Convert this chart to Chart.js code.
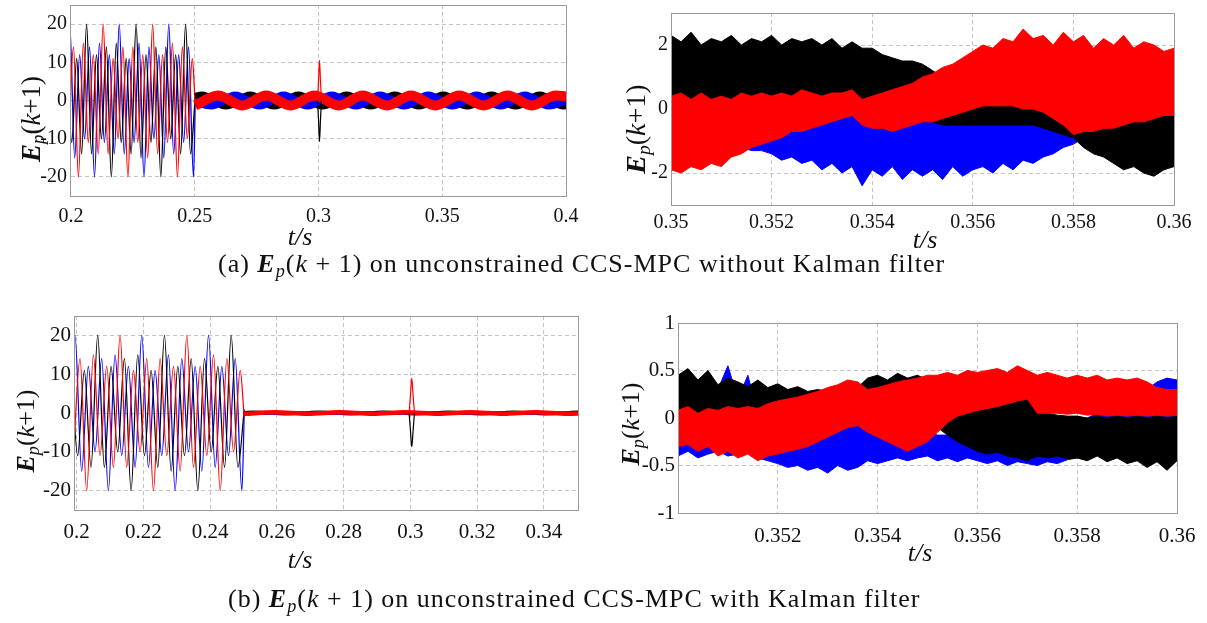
<!DOCTYPE html>
<html>
<head>
<meta charset="utf-8">
<script src="https://cdn.jsdelivr.net/npm/chart.js"></script>
<style>
  body { margin: 0; background: #fff; }
  #wrap { position: relative; width: 1207px; height: 623px; background: #fff; overflow: hidden; }
  canvas { position: absolute; }
  .ylab, .xlab, .cap { position: absolute; font-family: "Liberation Serif", "Times New Roman", serif; color: #111; white-space: nowrap; }
  .ylab { transform: translate(-50%, -50%) rotate(-90deg); }
  .xlab { font-size: 26px; font-style: italic; transform: translate(-50%, -50%); }
  .cap { font-size: 26px; letter-spacing: 1px; }
  sub { font-size: 0.7em; vertical-align: -0.25em; line-height: 0; }
</style>
</head>
<body>
<div id="wrap">
  <canvas id="tl" width="600" height="280" style="left:0;top:-20px"></canvas>
  <canvas id="tr" width="607" height="280" style="left:600px;top:-20px"></canvas>
  <canvas id="bl" width="610" height="300" style="left:0;top:300px"></canvas>
  <canvas id="br" width="607" height="300" style="left:600px;top:300px"></canvas>

  <div class="ylab" style="left:31px;top:119px;font-size:27px"><b><i>E</i></b><sub><i>p</i></sub>(<i>k</i>+1)</div>
  <div class="ylab" style="left:636px;top:129px;font-size:28px"><b><i>E</i></b><sub><i>p</i></sub>(<i>k</i>+1)</div>
  <div class="ylab" style="left:26px;top:431px;font-size:26px"><b><i>E</i></b><sub><i>p</i></sub>(<i>k</i>+1)</div>
  <div class="ylab" style="left:631px;top:424px;font-size:26px"><b><i>E</i></b><sub><i>p</i></sub>(<i>k</i>+1)</div>

  <div class="xlab" style="left:300px;top:237px">t/s</div>
  <div class="xlab" style="left:925px;top:240px">t/s</div>
  <div class="xlab" style="left:300px;top:560px">t/s</div>
  <div class="xlab" style="left:920px;top:553px">t/s</div>

  <div class="cap" style="left:218px;top:249px">(a) <b><i>E</i></b><sub><i>p</i></sub>(<i>k</i> + 1) on unconstrained CCS-MPC without Kalman filter</div>
  <div class="cap" style="left:228px;top:584px">(b) <b><i>E</i></b><sub><i>p</i></sub>(<i>k</i> + 1) on unconstrained CCS-MPC with Kalman filter</div>
</div>

<script>
// ---- left plots: transient before 0.25 s (extrema) ----
var blueTt = [0.1975,0.1995,0.2015,0.2035,0.2055,0.2075,0.2095,0.2115,0.2135,0.2155,0.2175,0.2195,0.2215,0.2235,0.2255,0.2275,0.2295,0.2315,0.2335,0.2355,0.2375,0.2395,0.2415,0.2435,0.2455,0.2475,0.2495,0.2502];
var blueTv = [-14,20,-15,12,-10,14,-20,15,-11,12,-14,20,-14,11,-11,15,-20,14,-10,12,-15,20,-14,12,-11,14,-20,-0.3];
var blackTt = [0.1983,0.2003,0.2023,0.2043,0.2063,0.2083,0.2103,0.2123,0.2143,0.2163,0.2183,0.2203,0.2223,0.2243,0.2263,0.2283,0.2303,0.2323,0.2343,0.2363,0.2383,0.2403,0.2423,0.2443,0.2463,0.2483,0.2502];
var blackTv = [14,-11,11,-14,20,-14,12,-10,14,-20,15,-11,11,-14,20,-15,12,-11,14,-20,14,-10,12,-14,20,-14,0.9];
var redTt = [0.1990,0.2010,0.2030,0.2050,0.2070,0.2090,0.2110,0.2130,0.2150,0.2170,0.2190,0.2210,0.2230,0.2250,0.2270,0.2290,0.2310,0.2330,0.2350,0.2370,0.2390,0.2410,0.2430,0.2450,0.2470,0.2490,0.2502];
var redTv = [-11,14,-20,15,-11,12,-14,20,-14,11,-10,14,-20,14,-11,12,-15,20,-14,12,-11,15,-20,14,-10,11,-1.3];

// ---- left plots: steady state after 0.25 s ----
var blackSt = [0.2502,0.2529,0.2626,0.2724,0.2821,0.2919,0.3016,0.3114,0.3211,0.3309,0.3406,0.3504,0.3601,0.3699,0.3796,0.3894,0.3991,0.4010];
var blackSv = [0.9,1.3,-1.3,1.3,-1.3,1.3,-1.3,1.3,-1.3,1.3,-1.3,1.3,-1.3,1.3,-1.3,1.3,-1.3,-1.2];
var blackSvK = [0.2,0.3,-0.3,0.3,-0.3,0.3,-0.3,0.3,-0.3,0.3,-0.3,0.3,-0.3,0.3,-0.3,0.3,-0.3,-0.3];
var blueSt = [0.2502,0.2566,0.2664,0.2761,0.2859,0.2956,0.3054,0.3151,0.3249,0.3346,0.3444,0.3541,0.3639,0.3736,0.3834,0.3931,0.4010];
var blueSv = [-0.4,-1.3,1.3,-1.3,1.3,-1.3,1.3,-1.3,1.3,-1.3,1.3,-1.3,1.3,-1.3,1.3,-1.3,0.3];
var blueSvK = [-0.1,-0.2,0.2,-0.2,0.2,-0.2,0.2,-0.2,0.2,-0.2,0.2,-0.2,0.2,-0.2,0.2,-0.2,0.1];
var redSt = [0.2502,0.2594,0.2692,0.2789,0.2887,0.2984,0.3082,0.3179,0.3277,0.3374,0.3472,0.3569,0.3667,0.3764,0.3862,0.3959,0.4010];
var redSv = [-1.3,1.3,-1.3,1.3,-1.3,1.3,-1.3,1.3,-1.3,1.3,-1.3,1.3,-1.3,1.3,-1.3,1.3,1.0];
var redSvK = [-0.2,0.2,-0.2,0.2,-0.2,0.2,-0.2,0.2,-0.2,0.2,-0.2,0.2,-0.2,0.2,-0.2,0.2,0.1];

// ---- step change spike at 0.3 s ----
var spikeT = [0.2996,0.3000,0.3004,0.3008,0.3012];
var redSpike = [0,5,10.5,5,0];
var blackSpike = [0,-5,-10.8,-5,0];
var redSpikeK = [0,4.5,9,4.5,0];
var blackSpikeK = [0,-4.5,-8.7,-4.5,0];

// ---- right plots: zoomed noise bands (upper / lower edges) ----
var tR = [0.3500,0.3502,0.3504,0.3506,0.3508,0.3510,0.3512,0.3514,0.3516,0.3518,0.3520,0.3522,0.3524,0.3526,0.3528,0.3530,0.3532,0.3534,0.3536,0.3538,0.3540,0.3542,0.3544,0.3546,0.3548,0.3550,0.3552,0.3554,0.3556,0.3558,0.3560,0.3562,0.3564,0.3566,0.3568,0.3570,0.3572,0.3574,0.3576,0.3578,0.3580,0.3582,0.3584,0.3586,0.3588,0.3590,0.3592,0.3594,0.3596,0.3598,0.3600];

// without Kalman filter
var blackHi = [2.3,2.1,2.4,2.0,2.2,2.1,2.3,2.0,2.2,2.1, 2.3,2.0,2.2,2.1,2.2,2.0,2.2,1.9,2.1,1.9, 1.9,1.7,1.6,1.5,1.5,1.4,1.2,1.0,0.8,0.7, 0.6,0.5,0.5,0.5,0.4,0.3,0.3,0.2,0.2,0.1, 0.1,0.0,0.0,-0.1,0.0,-0.1,0.0,-0.1,0.0,0.1, 0.0];
var blackLo = [-0.2,-0.1,-0.3,0.0,-0.1,0.0,0.1,0.0,0.1,0.2, 0.1,0.2,0.2,0.1,0.2,0.1,0.2,0.2,0.1,0.0, -0.1,-0.2,-0.2,-0.3,-0.3,-0.4,-0.4,-0.5,-0.5,-0.5, -0.5,-0.5,-0.5,-0.5,-0.5,-0.5,-0.5,-0.6,-0.7,-0.8, -0.9,-1.2,-1.4,-1.5,-1.7,-1.9,-1.8,-2.0,-2.1,-1.9, -1.8];
var blueHi = [0.3,0.2,0.2,0.1,0.1,0.0,0.0,-0.1,-0.1,-0.1, -0.1,-0.2,-0.2,-0.2,-0.2,-0.2,-0.1,-0.1,0.0,-0.1, -0.3,-0.3,-0.4,-0.4,-0.4,-0.4,-0.4,-0.4,-0.5,-0.5, -0.5,-0.5,-0.5,-0.5,-0.5,-0.5,-0.5,-0.5,-0.5,-0.5, -0.5,-0.5,-0.4,-0.3,-0.2,-0.1,0.0,0.1,0.1,0.2, 0.3];
var blueLo = [-1.2,-1.2,-1.3,-1.2,-1.3,-1.2,-1.3,-1.2,-1.3,-1.3, -1.4,-1.6,-1.5,-1.7,-1.6,-1.9,-1.7,-2.0,-1.8,-2.4, -1.9,-2.1,-1.8,-2.2,-1.9,-2.1,-1.9,-2.2,-1.8,-2.1, -1.9,-1.8,-2.0,-1.7,-1.9,-1.6,-1.7,-1.5,-1.4,-1.2, -1.1,-0.9,-0.8,-0.7,-0.6,-0.5,-0.4,-0.4,-0.3,-0.3, -0.2];
var redHi = [0.4,0.5,0.3,0.5,0.3,0.4,0.3,0.5,0.4,0.5, 0.4,0.5,0.4,0.6,0.5,0.4,0.5,0.5,0.6,0.3, 0.4,0.5,0.6,0.7,0.8,1.0,1.1,1.3,1.4,1.6, 1.8,2.0,1.9,2.2,2.1,2.5,2.2,2.3,2.0,2.4, 2.1,2.3,1.9,2.2,2.0,2.3,1.9,2.1,2.0,1.8, 1.9];
var redLo = [-1.9,-2.0,-1.8,-1.9,-1.7,-1.8,-1.5,-1.4,-1.2,-1.1, -1.0,-0.9,-0.7,-0.7,-0.6,-0.5,-0.4,-0.3,-0.2,-0.5, -0.6,-0.6,-0.7,-0.6,-0.5,-0.4,-0.4,-0.3,-0.2,-0.1, 0.0,0.1,0.1,0.1,0.1,0.0,0.0,-0.1,-0.3,-0.5, -0.8,-0.7,-0.7,-0.6,-0.6,-0.5,-0.4,-0.4,-0.3,-0.2, -0.2];

// with Kalman filter
var blackHiK = [0.45,0.52,0.40,0.50,0.35,0.42,0.38,0.33,0.40,0.32, 0.36,0.30,0.33,0.28,0.30,0.28,0.30,0.28,0.32,0.42, 0.45,0.40,0.47,0.42,0.45,0.40,0.35,0.28,0.20,0.15, 0.10,0.12,0.15,0.18,0.20,0.28,0.05,0.05,0.03,0.02, 0.02,0.00,0.02,0.00,0.02,0.00,0.02,0.00,0.02,0.00, 0.02];
var blackLoK = [-0.05,-0.02,0.00,0.02,0.00,0.03,0.05,0.02,0.04,0.05, 0.04,0.05,0.06,0.06,0.07,0.08,0.08,0.10,0.10,0.12, 0.12,0.10,0.10,0.05,0.02,-0.05,-0.10,-0.18,-0.25,-0.30, -0.35,-0.38,-0.36,-0.40,-0.42,-0.45,-0.40,-0.42,-0.40,-0.43, -0.42,-0.45,-0.40,-0.46,-0.42,-0.48,-0.45,-0.52,-0.46,-0.55, -0.45];
var blueHiK = [-0.05,-0.08,0.00,-0.05,0.30,0.55,0.20,0.45,0.05,-0.05, -0.08,-0.10,-0.10,-0.08,-0.10,-0.10,-0.08,-0.10,-0.05,0.00, -0.10,-0.12,-0.15,-0.15,-0.15,-0.15,-0.18,-0.18,-0.20,-0.20, -0.22,-0.20,-0.20,-0.20,-0.20,-0.20,-0.18,-0.15,-0.12,-0.10, -0.05,0.00,0.05,0.10,0.15,0.20,0.25,0.30,0.38,0.42, 0.40];
var blueLoK = [-0.40,-0.35,-0.42,-0.38,-0.35,-0.40,-0.38,-0.36,-0.42,-0.45, -0.48,-0.52,-0.50,-0.55,-0.52,-0.58,-0.50,-0.55,-0.52,-0.45, -0.48,-0.45,-0.42,-0.45,-0.42,-0.40,-0.45,-0.42,-0.46,-0.42, -0.45,-0.48,-0.45,-0.50,-0.46,-0.48,-0.50,-0.46,-0.48,-0.44, -0.42,-0.40,-0.35,-0.30,-0.25,-0.20,-0.15,-0.10,-0.05,0.00, 0.00];
var redHiK = [0.08,0.12,0.05,0.10,0.08,0.12,0.10,0.12,0.10,0.15, 0.18,0.20,0.22,0.25,0.28,0.32,0.35,0.40,0.38,0.30, 0.32,0.35,0.38,0.40,0.42,0.45,0.45,0.48,0.45,0.50, 0.48,0.50,0.52,0.48,0.55,0.50,0.45,0.48,0.45,0.42, 0.45,0.42,0.45,0.40,0.42,0.40,0.42,0.38,0.32,0.30, 0.30];
var redLoK = [-0.30,-0.28,-0.35,-0.30,-0.40,-0.35,-0.42,-0.38,-0.45,-0.40, -0.38,-0.35,-0.33,-0.30,-0.25,-0.20,-0.15,-0.10,-0.08,-0.15, -0.20,-0.25,-0.30,-0.35,-0.30,-0.25,-0.15,-0.05,0.02,0.05, 0.08,0.10,0.12,0.15,0.18,0.20,0.05,0.05,0.05,0.04, 0.05,0.03,0.04,0.02,0.03,0.02,0.03,0.02,0.03,0.02, 0.03];

// ---- ticks ----
var xTicksTL = [0.2, 0.25, 0.3, 0.35, 0.4];
var xTicksTR = [0.35, 0.352, 0.354, 0.356, 0.358, 0.36];
var xTicksBL = [0.2, 0.22, 0.24, 0.26, 0.28, 0.3, 0.32, 0.34];
var xTicksBR = [0.352, 0.354, 0.356, 0.358, 0.36];
var yTicksLeft = [-20, -10, 0, 10, 20];
var yTicksTR = [-2, 0, 2];
var yTicksBR = [-1, -0.5, 0, 0.5, 1];

var RED = '#ff0000', BLACK = '#000000', BLUE = '#0000ff';
var gridColor = '#c4c4c4', frameColor = '#9a9a9a';

function pts(ts, vs) {
  return ts.map(function (t, i) { return { x: t, y: vs[i] }; });
}

function line(ts, vs, color, width) {
  return {
    data: pts(ts, vs), borderColor: color, borderWidth: width,
    pointRadius: 0, cubicInterpolationMode: 'monotone', fill: false
  };
}

// two datasets: lower edge, then upper edge filled down to it
function band(lo, hi, color) {
  return [
    { data: pts(tR, lo), borderColor: color, borderWidth: 1, pointRadius: 0, tension: 0, fill: false },
    { data: pts(tR, hi), borderColor: color, borderWidth: 1, pointRadius: 0, tension: 0, fill: '-1', backgroundColor: color }
  ];
}

var framePlugin = {
  id: 'frame',
  afterDatasetsDraw: function (chart) {
    var a = chart.chartArea, ctx = chart.ctx;
    ctx.save();
    ctx.strokeStyle = frameColor;
    ctx.lineWidth = 1;
    ctx.setLineDash([]);
    ctx.strokeRect(Math.round(a.left) + 0.5, Math.round(a.top) + 0.5,
      Math.round(a.right - a.left), Math.round(a.bottom - a.top));
    ctx.restore();
  }
};

function axis(min, max, ticks, size, pad, horizontal, fontSize) {
  return {
    type: 'linear', min: min, max: max,
    afterBuildTicks: function (s) { s.ticks = ticks.map(function (v) { return { value: v }; }); },
    afterFit: function (s) { if (horizontal) { s.height = size; } else { s.width = size; } },
    grid: { color: gridColor, lineWidth: 1, drawTicks: false },
    border: { color: frameColor, dash: [4, 3] },
    ticks: {
      autoSkip: false, maxRotation: 0, padding: pad, color: '#111',
      font: { family: '"Liberation Serif", "Times New Roman", serif', size: fontSize },
      callback: function (v) { return String(v); }
    }
  };
}

function makeChart(id, datasets, x, y, padding) {
  return new Chart(document.getElementById(id).getContext('2d'), {
    type: 'line',
    data: { datasets: datasets },
    options: {
      responsive: false, animation: false, events: [],
      layout: { padding: padding },
      plugins: { legend: { display: false }, tooltip: { enabled: false } },
      scales: { x: x, y: y }
    },
    plugins: [framePlugin]
  });
}

// datasets listed front-most first (Chart.js draws the first dataset last)
makeChart('tl', [
  line(spikeT, redSpike, RED, 1.2),
  line(spikeT, blackSpike, BLACK, 1.2),
  line(redSt, redSv, RED, 10),
  line(blueSt, blueSv, BLUE, 8),
  line(blackSt, blackSv, BLACK, 8),
  line(redTt, redTv, RED, 1.3),
  line(blackTt, blackTv, BLACK, 1.3),
  line(blueTt, blueTv, BLUE, 1.3)
], axis(0.1996, 0.4, xTicksTL, 64, 9, true, 20),
   axis(-25, 25, yTicksLeft, 70, 3, false, 20),
   { top: 25, right: 34, left: 0, bottom: 0 });

makeChart('tr', [].concat(
  band(redLo, redHi, RED),
  band(blackLo, blackHi, BLACK),
  band(blueLo, blueHi, BLUE)
), axis(0.35, 0.36, xTicksTR, 55, 6, true, 20),
   axis(-3, 3, yTicksTR, 71, 3, false, 20),
   { top: 33, right: 33, left: 0, bottom: 0 });

makeChart('bl', [
  line(spikeT, redSpikeK, RED, 1.2),
  line(spikeT, blackSpikeK, BLACK, 1.2),
  line(redSt, redSvK, RED, 4.5),
  line(blueSt, blueSvK, BLUE, 2.5),
  line(blackSt, blackSvK, BLACK, 2.5),
  line(redTt, redTv, RED, 1.2),
  line(blackTt, blackTv, BLACK, 1.2),
  line(blueTt, blueTv, BLUE, 1.2)
], axis(0.1992, 0.3502, xTicksBL, 90, 10, true, 21),
   axis(-25, 25, yTicksLeft, 74, 3, false, 21),
   { top: 16, right: 32, left: 0, bottom: 0 });

makeChart('br', [].concat(
  band(redLoK, redHiK, RED),
  band(blackLoK, blackHiK, BLACK),
  band(blueLoK, blueHiK, BLUE)
), axis(0.35, 0.36, xTicksBR, 87, 11, true, 21),
   axis(-1, 1, yTicksBR, 78, 3, false, 21),
   { top: 23, right: 30, left: 0, bottom: 0 });
</script>
</body>
</html>
